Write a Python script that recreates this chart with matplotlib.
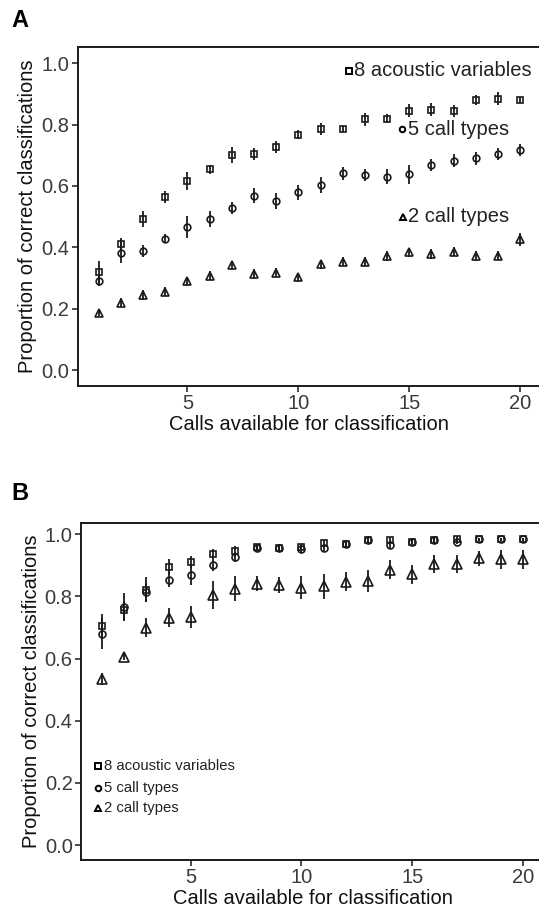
import matplotlib
matplotlib.use("Agg")
import numpy as np
from matplotlib import pyplot as plt

plt.rcParams['font.family'] = ['Liberation Sans', 'DejaVu Sans']

calls = np.arange(1, 21)

# Panel A
a_acoustic = [0.320, 0.412, 0.492, 0.563, 0.617, 0.654, 0.701, 0.705, 0.726, 0.767,
              0.785, 0.785, 0.817, 0.819, 0.846, 0.849, 0.844, 0.880, 0.885, 0.880]
a_acoustic_err = [0.035, 0.02, 0.025, 0.02, 0.03, 0.015, 0.025, 0.02, 0.02, 0.015,
                  0.02, 0.01, 0.02, 0.015, 0.02, 0.02, 0.02, 0.015, 0.02, 0.01]
a_five = [0.290, 0.383, 0.389, 0.428, 0.466, 0.492, 0.528, 0.568, 0.551, 0.579,
          0.603, 0.641, 0.636, 0.630, 0.638, 0.668, 0.683, 0.690, 0.704, 0.717]
a_five_err = [0.015, 0.035, 0.02, 0.015, 0.035, 0.025, 0.02, 0.025, 0.025, 0.025,
              0.025, 0.02, 0.02, 0.025, 0.03, 0.02, 0.02, 0.02, 0.02, 0.02]
a_two = [0.185, 0.219, 0.245, 0.255, 0.289, 0.308, 0.342, 0.313, 0.317, 0.302,
         0.345, 0.353, 0.353, 0.372, 0.384, 0.378, 0.386, 0.372, 0.373, 0.426]
a_two_err = [0.01, 0.015, 0.015, 0.015, 0.015, 0.015, 0.015, 0.015, 0.015, 0.015,
             0.015, 0.015, 0.015, 0.015, 0.015, 0.015, 0.015, 0.015, 0.015, 0.02]

# Panel B
b_acoustic = [0.704, 0.755, 0.822, 0.896, 0.911, 0.936, 0.946, 0.959, 0.957, 0.958,
              0.972, 0.970, 0.981, 0.981, 0.975, 0.981, 0.986, 0.984, 0.984, 0.984]
b_acoustic_err = [0.04, 0.03, 0.04, 0.025, 0.02, 0.015, 0.015, 0.01, 0.01, 0.01,
                  0.01, 0.01, 0.008, 0.01, 0.008, 0.008, 0.008, 0.005, 0.005, 0.005]
b_five = [0.680, 0.766, 0.813, 0.854, 0.868, 0.901, 0.927, 0.957, 0.957, 0.951,
          0.957, 0.970, 0.981, 0.965, 0.975, 0.981, 0.975, 0.984, 0.984, 0.984]
b_five_err = [0.05, 0.045, 0.03, 0.025, 0.03, 0.02, 0.015, 0.01, 0.01, 0.01,
              0.01, 0.01, 0.008, 0.01, 0.008, 0.008, 0.008, 0.005, 0.005, 0.005]
b_two = [0.535, 0.605, 0.699, 0.732, 0.734, 0.806, 0.825, 0.841, 0.836, 0.828,
         0.833, 0.847, 0.850, 0.886, 0.871, 0.904, 0.904, 0.922, 0.919, 0.919]
b_two_err = [0.02, 0.01, 0.03, 0.03, 0.035, 0.045, 0.04, 0.025, 0.025, 0.037,
             0.04, 0.03, 0.035, 0.03, 0.03, 0.03, 0.03, 0.025, 0.03, 0.03]

series_labels = ['8 acoustic variables', '5 call types', '2 call types']
markers = ['s', 'o', '^']

dark = '#1a1a1a'
tick_col = '#3a3a3a'


def draw_panel(ax, series, ylim, sizes):
    for (vals, errs), m, ms in zip(series, markers, sizes):
        ax.errorbar(calls, vals, yerr=errs, fmt=m, ms=ms, mfc='none', mec=dark,
                    mew=1.2, ecolor=dark, elinewidth=1.3, capsize=0)
    ax.set_xlim(0.05, 20.95)
    ax.set_ylim(*ylim)
    ax.set_xticks([5, 10, 15, 20])
    ax.set_yticks([0.0, 0.2, 0.4, 0.6, 0.8, 1.0])
    ax.set_yticklabels(['0.0', '0.2', '0.4', '0.6', '0.8', '1.0'])
    ax.tick_params(direction='out', length=4, width=1.1, color=dark,
                   labelsize=14.5, labelcolor=tick_col, pad=2)
    for s in ax.spines.values():
        s.set_linewidth(1.4)
        s.set_color(dark)
    ax.set_xlabel('Calls available for classification', fontsize=14.5, color='#111111', labelpad=1.5)
    ax.set_ylabel('Proportion of correct classifications', fontsize=14.5, color='#111111', labelpad=3)


fig = plt.figure(figsize=(5.39, 9.10), dpi=100)

ax_a = fig.add_axes([0.1438, 0.5758, 0.8605, 0.3722])
draw_panel(ax_a, [(a_acoustic, a_acoustic_err), (a_five, a_five_err), (a_two, a_two_err)],
           (-0.052, 1.052), [4.8, 4.8, 5.5])
# legend A as labels next to the data
leg_a = [(12.27, 0.975), (14.68, 0.785), (14.70, 0.50)]
for (lx, ly), m, lab in zip(leg_a, markers, series_labels):
    ax_a.plot([lx], [ly], marker=m, ms=4, mfc='none', mec='black', mew=1.4, ls='none')
    ax_a.text(lx + 0.25, ly, lab, fontsize=14.5, color='#222222', va='center', ha='left')

ax_b = fig.add_axes([0.1503, 0.0549, 0.859, 0.3707])
draw_panel(ax_b, [(b_acoustic, b_acoustic_err), (b_five, b_five_err), (b_two, b_two_err)],
           (-0.048, 1.037), [5, 5, 6.5])
leg_b = [(0.81, 0.255), (0.81, 0.184), (0.81, 0.118)]
for (lx, ly), m, lab in zip(leg_b, markers, series_labels):
    ax_b.plot([lx], [ly], marker=m, ms=4, mfc='none', mec='black', mew=1.4, ls='none')
    ax_b.text(lx + 0.3, ly, lab, fontsize=10.7, color='#222222', va='center', ha='left')

fig.text(0.022, 0.978, 'A', fontsize=17, fontweight='bold', va='center', ha='left')
fig.text(0.022, 0.458, 'B', fontsize=17, fontweight='bold', va='center', ha='left')

fig.savefig('out.png', dpi=100)
